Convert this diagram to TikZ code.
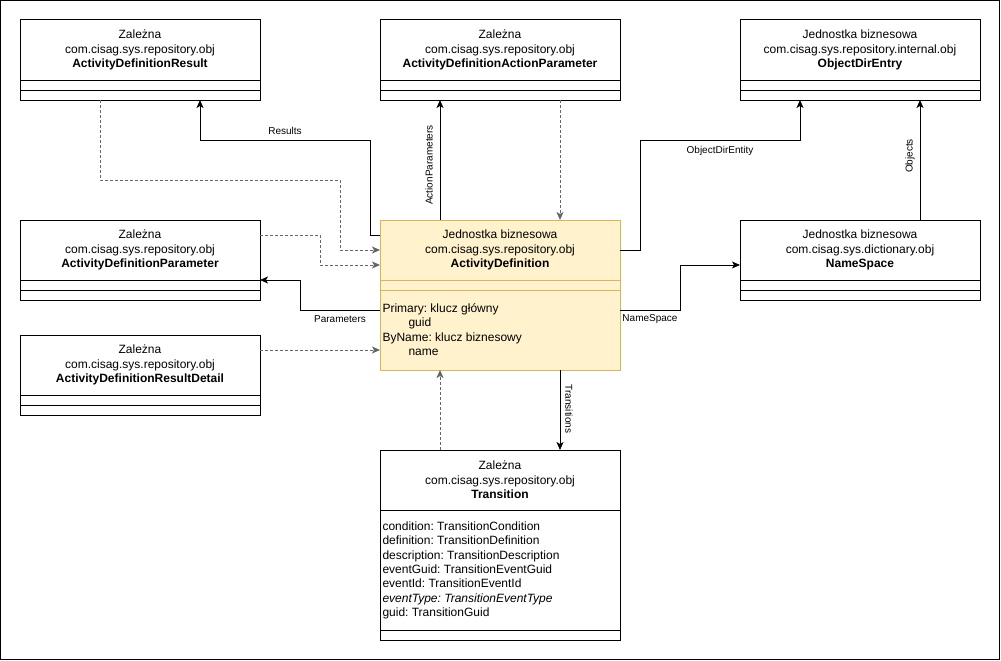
\documentclass[tikz,border=0pt]{standalone}
\usepackage{fontspec}
\setmainfont{Liberation Sans}
\frenchspacing
\usetikzlibrary{positioning,arrows.meta}
\begin{document}
\begin{tikzpicture}[x=1pt,y=-1pt,line width=1pt,
  >={Stealth[length=8pt,width=7pt,inset=2pt]},
  klasa/.style={draw,outer sep=0pt,inner sep=0pt,minimum width=240pt,minimum height=60pt,
    align=center,font=\fontsize{12}{14.5}\selectfont,execute at begin node=\rule{0pt}{12pt}},
  przedzial/.style={draw,outer sep=0pt,inner sep=0pt,minimum width=240pt,minimum height=#1},
  przedzial/.default=10pt,
  zolta/.style={fill=zolty,draw=zoltyramka},
  lista/.style={anchor=north west,inner sep=0pt,align=left,font=\fontsize{12}{14.4}\selectfont},
  etykieta/.style={font=\fontsize{10}{12}\selectfont,inner sep=1pt},
  zal/.style={dash pattern=on 3pt off 2pt,draw=black!60}]
\definecolor{zolty}{HTML}{FFF2CC}
\definecolor{zoltyramka}{HTML}{D6B656}
\useasboundingbox (0,0) rectangle (1001,661);
\draw (0.5,0.5) rectangle (999.5,659.5);

% klasy
\node[klasa,anchor=north west] (adr) at (20,20) {Zależna\\com.cisag.sys.repository.obj\\\textbf{ActivityDefinitionResult}};
\node[klasa,anchor=north west] (adap) at (380,20) {Zależna\\com.cisag.sys.repository.obj\\\textbf{ActivityDefinitionActionParameter}};
\node[klasa,anchor=north west] (ode) at (740,20) {Jednostka biznesowa\\com.cisag.sys.repository.internal.obj\\\textbf{ObjectDirEntry}};
\node[klasa,anchor=north west] (adp) at (20,220) {Zależna\\com.cisag.sys.repository.obj\\\textbf{ActivityDefinitionParameter}};
\node[klasa,zolta,anchor=north west] (ad) at (380,220) {Jednostka biznesowa\\com.cisag.sys.repository.obj\\\textbf{ActivityDefinition}};
\node[klasa,anchor=north west] (ns) at (740,220) {Jednostka biznesowa\\com.cisag.sys.dictionary.obj\\\textbf{NameSpace}};
\node[klasa,anchor=north west] (adrd) at (20,335) {Zależna\\com.cisag.sys.repository.obj\\\textbf{ActivityDefinitionResultDetail}};
\node[klasa,anchor=north west] (tr) at (380,450) {Zależna\\com.cisag.sys.repository.obj\\\textbf{Transition}};

\foreach \k in {adr,adap,ode,adp,ns,adrd}{
	\node[przedzial,below=0pt of \k] (\k-a) {};
	\node[przedzial,below=0pt of \k-a] (\k-m) {};
}
\node[przedzial,zolta,below=0pt of ad] (ad-a) {};
\node[przedzial=80pt,zolta,below=0pt of ad-a] (ad-m) {};
\node[przedzial=120pt,below=0pt of tr] (tr-a) {};
\node[przedzial,below=0pt of tr-a] (tr-m) {};

\node[lista] (ad-t) at ([xshift=2pt,yshift=-13pt]ad-m.north west)
	{Primary: klucz główny\\\hspace*{26pt}guid\\ByName: klucz biznesowy\\\hspace*{26pt}name};
\node[lista] (tr-t) at ([xshift=2pt,yshift=-11pt]tr-a.north west)
	{condition: TransitionCondition\\definition: TransitionDefinition\\description: TransitionDescription\\eventGuid: TransitionEventGuid\\eventId: TransitionEventId\\\textit{eventType: TransitionEventType}\\guid: TransitionGuid};

% powiazania
\draw[->] ([yshift=15pt]ad.west) -- ++(-10,0) |- (200,140) -- ([xshift=60pt]adr-m.south);
\draw[zal,->] ([xshift=-40pt]adr-m.south) |- (340,180) |- (ad.west);
\draw[zal,->] ([yshift=15pt]adp.east) -- ++(60,0) |- ([yshift=-15pt]ad.west);
\draw[->] ([yshift=20pt]ad-m.west) -| (300,280) -- (adp.south east);
\draw[zal,->] ([yshift=15pt]adrd.east) -- ([yshift=-20pt]ad-m.west);
\draw[->] ([xshift=-60pt]ad.north) -- ([xshift=-60pt]adap-m.south);
\draw[zal,->] ([xshift=60pt]adap-m.south) -- ([xshift=60pt]ad.north);
\draw[->] (ad.east) -- ++(20,0) |- (800,140) -- ([xshift=-60pt]ode-m.south);
\draw[->] ([xshift=60pt]ns.north) -- ([xshift=60pt]ode-m.south);
\draw[->] ([yshift=20pt]ad-m.east) -| (680,265) -- ([yshift=-15pt]ns.west);
\draw[->] ([xshift=60pt]ad-m.south) -- ([xshift=60pt]tr.north);
\draw[zal,->] ([xshift=-60pt]tr.north) -- ([xshift=-60pt]ad-m.south);

% etykiety
\node[etykieta] (l-results) at (285,131) {Results};
\node[etykieta,rotate=90] (l-actpar) at (429,165) {ActionParameters};
\node[etykieta] (l-ode) at (720,151) {ObjectDirEntity};
\node[etykieta,rotate=90] (l-objects) at (910,156) {Objects};
\node[etykieta] (l-params) at (340,319) {Parameters};
\node[etykieta] (l-ns) at (650,319) {NameSpace};
\node[etykieta,rotate=-90] (l-trans) at (569,409) {Transitions};

\end{tikzpicture}
\end{document}
